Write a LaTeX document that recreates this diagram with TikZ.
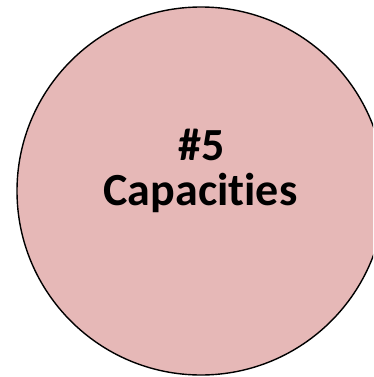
\documentclass[tikz,border=0pt]{standalone}
\usepackage{fontspec}
\setmainfont[Ligatures=NoCommon]{Carlito}
\definecolor{pinkfill}{HTML}{E6B8B7}
\begin{document}
\begin{tikzpicture}[x=1pt,y=1pt,
  bubble/.style={circle,draw=black,line width=1.4pt,fill=pinkfill,minimum size=368pt,inner sep=0pt},
  label/.style={font=\fontsize{46}{49}\selectfont\bfseries,inner sep=0pt,anchor=base}]
\useasboundingbox (0,0) rectangle (373,-377);
\begin{scope}
\clip (0,0) rectangle (373,-377);
\node[bubble] (circ) at (201,-191) {};
\end{scope}
\node[label] (num) at (202,-160) {\#5};
\node[label] (cap) at (200.5,-205) {Capacities};
\end{tikzpicture}
\end{document}
